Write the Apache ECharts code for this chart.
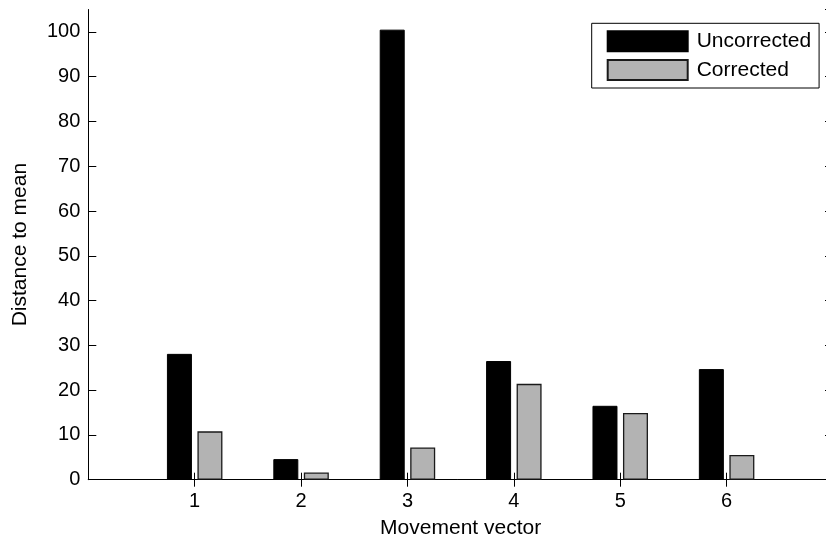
<!DOCTYPE html>
<html>
<head>
<meta charset="utf-8">
<script src="https://cdn.jsdelivr.net/npm/echarts@6/dist/echarts.min.js"></script>
<style>
html,body{margin:0;padding:0;background:#fff;}
#chart{width:826px;height:542px;}
</style>
</head>
<body>
<div id="chart"></div>
<script>
const categories = ['1', '2', '3', '4', '5', '6'];
const uncorrected = [28.1, 4.6, 100.5, 26.5, 16.5, 24.7];
const corrected = [10.8, 1.6, 7.2, 21.4, 14.9, 5.5];
const yTicks = [0, 10, 20, 30, 40, 50, 60, 70, 80, 90, 100];

// pad with empty slots at x = 0 and x = 7
const xCats = [''].concat(categories, ['']);
const pad = arr => [null].concat(arr, [null]);

const FONT = 'Liberation Sans, Arial, Helvetica, sans-serif';
const chart = echarts.init(document.getElementById('chart'), null, {renderer: 'canvas'});

const tickShow = (i) => i >= 1 && i <= categories.length;

chart.setOption({
  animation: false,
  backgroundColor: '#fff',
  textStyle: {fontFamily: FONT, color: '#000'},
  grid: {left: 88.3, top: 9.5, right: -7, bottom: 62.3, show: false, containLabel: false, outerBoundsMode: 'none'},
  legend: {
    orient: 'vertical',
    left: 591.7,
    top: 23.3,
    padding: [7, 8, 7, 15],
    itemGap: 6.7,
    itemWidth: 80,
    itemHeight: 20,
    icon: 'rect',
    borderColor: '#000',
    borderWidth: 1,
    backgroundColor: '#fff',
    textStyle: {fontSize: 21, fontFamily: FONT, color: '#000', padding: [0, 0, 0, 4]},
    data: ['Uncorrected', 'Corrected']
  },
  xAxis: [{
    type: 'category',
    data: xCats,
    boundaryGap: false,
    name: 'Movement vector',
    nameLocation: 'middle',
    nameGap: 38,
    nameTextStyle: {fontSize: 21, fontFamily: FONT, color: '#000'},
    axisLine: {show: true, lineStyle: {color: '#000', width: 1}},
    axisTick: {show: true, inside: true, length: 7, interval: (i) => tickShow(i), lineStyle: {color: '#000'}},
    axisLabel: {fontSize: 20, fontFamily: FONT, color: '#000', margin: 12, interval: 0},
    splitLine: {show: false}
  }, {
    type: 'category',
    data: xCats,
    boundaryGap: false,
    position: 'top',
    axisLine: {show: true, lineStyle: {color: '#000', width: 1}},
    axisTick: {show: true, inside: true, length: 7, interval: (i) => tickShow(i), lineStyle: {color: '#000'}},
    axisLabel: {show: false},
    splitLine: {show: false}
  }],
  yAxis: [{
    type: 'value',
    min: 0,
    max: 105,
    interval: 10,
    name: 'Distance to mean',
    nameLocation: 'middle',
    nameGap: 58,
    nameTextStyle: {fontSize: 21, fontFamily: FONT, color: '#000'},
    axisLine: {show: true, lineStyle: {color: '#000', width: 1}},
    axisTick: {show: true, inside: true, length: 8, lineStyle: {color: '#000'}},
    axisLabel: {
      fontSize: 20, fontFamily: FONT, color: '#000', margin: 8,
      showMaxLabel: false,
      formatter: (v) => (yTicks.indexOf(v) >= 0 ? String(v) : '')
    },
    splitLine: {show: false}
  }, {
    type: 'value',
    min: 0,
    max: 105,
    interval: 10,
    position: 'right',
    axisLine: {show: true, lineStyle: {color: '#000', width: 1}},
    axisTick: {show: true, inside: true, length: 8, lineStyle: {color: '#000'}},
    axisLabel: {show: false},
    splitLine: {show: false}
  }],
  series: [{
    name: 'Uncorrected',
    type: 'bar',
    barWidth: 25,
    barGap: '22%',
    data: pad(uncorrected),
    itemStyle: {color: '#000', borderColor: '#000', borderWidth: 1}
  }, {
    name: 'Corrected',
    type: 'bar',
    barWidth: 25,
    barGap: '22%',
    data: pad(corrected),
    itemStyle: {color: '#b3b3b3', borderColor: '#1a1a1a', borderWidth: 1.3}
  }]
});
</script>
</body>
</html>
